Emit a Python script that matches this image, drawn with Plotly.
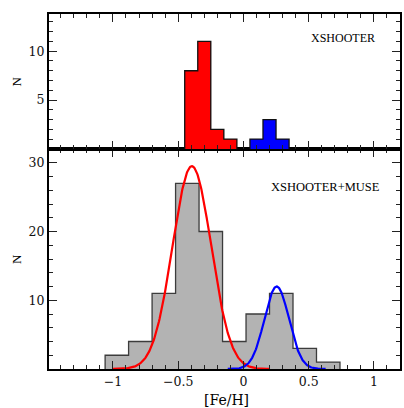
import numpy as np
import plotly.graph_objects as go

# ---- data ----
xs_red_edges = [-0.45, -0.35, -0.25, -0.15, -0.05]
xs_red_counts = [8, 11, 2, 1]
xs_blue_edges = [0.05, 0.15, 0.25, 0.35]
xs_blue_counts = [1, 3, 1]

all_edges = [-1.06, -0.88, -0.70, -0.52, -0.34, -0.16, 0.02, 0.20, 0.38, 0.56, 0.74]
all_counts = [2, 4, 11, 27, 20, 4, 8, 11, 3, 1]

# Gaussian fit parameters: (mean, sigma, amplitude, x-start, x-end)
red_fit = (-0.395, 0.148, 29.5, -1.0, 0.2)
blue_fit = (0.255, 0.094, 12.0, -0.12, 0.63)

x_ticks = [-1, -0.5, 0, 0.5, 1]
x_ticktext = ["\u22121", "\u22120.5", "0", "0.5", "1"]
top_yticks = [5, 10]
bot_yticks = [10, 20, 30]

FONT = "Liberation Serif"
TICKFONT = dict(family="DejaVu Serif", size=12.5, color="#111111")


def step_outline(edges, counts):
    xs, ys = [edges[0]], [0]
    for i, c in enumerate(counts):
        xs += [edges[i], edges[i + 1]]
        ys += [c, c]
    xs.append(edges[-1])
    ys.append(0)
    return xs, ys


def bar_trace(edges, counts, fill, yaxis, xaxis):
    centers = [(edges[i] + edges[i + 1]) / 2 for i in range(len(counts))]
    widths = [edges[i + 1] - edges[i] for i in range(len(counts))]
    return go.Bar(x=centers, y=counts, width=widths, marker=dict(color=fill, line=dict(width=0)),
                  xaxis=xaxis, yaxis=yaxis, showlegend=False, hoverinfo="skip")


def outline_trace(edges, counts, color, yaxis, xaxis, w=1.3):
    xs, ys = step_outline(edges, counts)
    return go.Scatter(x=xs, y=ys, mode="lines", line=dict(color=color, width=w),
                      xaxis=xaxis, yaxis=yaxis, showlegend=False, hoverinfo="skip")


def gauss_trace(fit, color):
    mu, sig, amp, x0, x1 = fit
    x = np.linspace(x0, x1, 300)
    y = amp * np.exp(-0.5 * ((x - mu) / sig) ** 2)
    return go.Scatter(x=x, y=y, mode="lines", line=dict(color=color, width=2.2),
                      xaxis="x", yaxis="y", showlegend=False, hoverinfo="skip")


fig = go.Figure()
# bottom panel
fig.add_trace(bar_trace(all_edges, all_counts, "#b3b3b3", "y", "x"))
fig.add_trace(outline_trace(all_edges, all_counts, "#3c3c3c", "y", "x"))
fig.add_trace(gauss_trace(red_fit, "#ff0000"))
fig.add_trace(gauss_trace(blue_fit, "#0000ff"))
# top panel
fig.add_trace(bar_trace(xs_red_edges, xs_red_counts, "#ff0000", "y2", "x2"))
fig.add_trace(outline_trace(xs_red_edges, xs_red_counts, "#111111", "y2", "x2"))
fig.add_trace(bar_trace(xs_blue_edges, xs_blue_counts, "#0000ff", "y2", "x2"))
fig.add_trace(outline_trace(xs_blue_edges, xs_blue_counts, "#111111", "y2", "x2"))

split = 220 / 355

common_axis = dict(showline=True, linewidth=2, linecolor="black", mirror="allticks",
                   ticks="inside", ticklen=8, tickwidth=1, tickcolor="#222222",
                   showgrid=False, zeroline=False, automargin=False, tickfont=TICKFONT)
minor_common = dict(ticklen=4, ticks="inside", tickcolor="#222222", tickwidth=1)

fig.update_layout(
    width=404, height=408, autosize=False,
    margin=dict(l=49, r=4, t=14, b=39, pad=0),
    paper_bgcolor="white", plot_bgcolor="white",
    font=dict(family=FONT, size=13, color="black"),
    barmode="overlay", bargap=0,
    xaxis=dict(range=[-1.49, 1.2], domain=[0, 1], anchor="y", tickvals=x_ticks,
               ticktext=x_ticktext, minor=dict(dtick=0.1, tick0=0, **minor_common),
               **common_axis),
    yaxis=dict(range=[0, 32], domain=[0, split], anchor="x", tickvals=bot_yticks,
               minor=dict(dtick=2, tick0=0, **minor_common), **common_axis),
    xaxis2=dict(range=[-1.49, 1.2], domain=[0, 1], anchor="y2", tickvals=x_ticks,
                showticklabels=False, matches="x",
                minor=dict(dtick=0.1, tick0=0, **minor_common), **common_axis),
    yaxis2=dict(range=[0, 13.8], domain=[split, 1], anchor="x2", tickvals=top_yticks,
                minor=dict(dtick=1, tick0=0, **minor_common), **common_axis),
)

ann = [
    dict(text="XSHOOTER", x=0.934, y=0.932, size=12),
    dict(text="XSHOOTER+MUSE", x=0.949, y=0.5135, size=12.5),
]
for a in ann:
    fig.add_annotation(text=a["text"], x=a["x"], y=a["y"], xref="paper", yref="paper",
                       showarrow=False, xanchor="right", yanchor="middle",
                       font=dict(size=a["size"], family=FONT))

# axis titles
fig.add_annotation(text="N", x=-0.094, y=split + (1 - split) / 2, xref="paper", yref="paper",
                   showarrow=False, textangle=-90, xanchor="center", yanchor="middle",
                   font=dict(size=13, family=FONT))
fig.add_annotation(text="N", x=-0.094, y=split / 2, xref="paper", yref="paper",
                   showarrow=False, textangle=-90, xanchor="center", yanchor="middle",
                   font=dict(size=13, family=FONT))
fig.add_annotation(text="[Fe/H]", x=0.506, y=-0.0873, xref="paper", yref="paper",
                   showarrow=False, yanchor="middle",
                   font=dict(size=14, family="DejaVu Serif"))

fig.write_html("out.html", config={"displayModeBar": False},
               post_script="document.body.style.margin='0';document.body.style.overflow='hidden';")
